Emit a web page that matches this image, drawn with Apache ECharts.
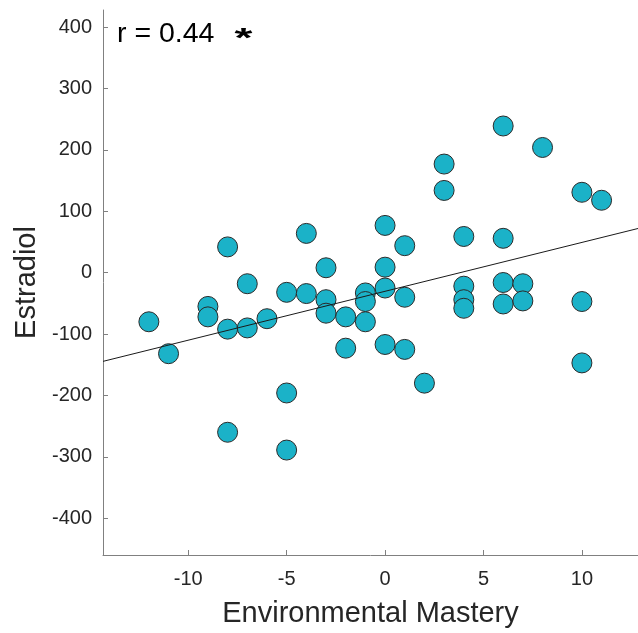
<!DOCTYPE html>
<html>
<head>
<meta charset="utf-8">
<script src="https://cdn.jsdelivr.net/npm/echarts@6/dist/echarts.min.js"></script>
<style>html,body{margin:0;padding:0;background:#fff}#c{width:638px;height:633px}</style>
</head>
<body>
<div id="c"></div>
<script>
// Environmental Mastery (x) values
const masteryX = [-12,-11,-9,-9,-8,-8,-8,-7,-7,-6,-5,-5,-5,-4,-4,-3,-3,-3,-2,-2,-1,-1,-1,0,0,0,0,1,1,1,2,3,3,4,4,4,4,6,6,6,6,7,7,8,10,10,10,11];
// Estradiol (y) values
const estradiolY = [-80,-132,-55,-72,42,-92,-260,-18,-90,-75,-32,-196,-289,64,-34,8,-44,-66,-72,-123,-33,-47,-80,77,9,-25,-117,44,-40,-125,-180,177,134,59,-22,-44,-58,239,56,-16,-51,-18,-46,204,131,-47,-147,118];
// fit line endpoints
const fitX = [-14.33, 12.85];
const fitY = [-144.5, 72];
const xTicks = [-10,-5,0,5,10];
const yTicks = [-400,-300,-200,-100,0,100,200,300,400];
const corrLabel = 'r = 0.44';
const sigLabel = '*';

const points = masteryX.map((x,i)=>[x, estradiolY[i]]);
const fitLine = fitX.map((x,i)=>[x, fitY[i]]);

const FONT = 'Liberation Sans, Arial, Helvetica, sans-serif';
const chart = echarts.init(document.getElementById('c'));
const axisCommon = {
  axisLine:{show:true, onZero:false, lineStyle:{color:'#808080', width:1}},
  splitLine:{show:false},
};
chart.setOption({
  animation:false,
  grid:{left:103, right:0, top:10, bottom:78, containLabel:false},
  xAxis:{
    type:'value', min:-14.33, max:12.85,
    ...axisCommon,
    axisTick:{show:true, inside:true, length:5, customValues:xTicks, lineStyle:{color:'#808080'}},
    axisLabel:{customValues:xTicks, color:'#262626', fontSize:20, fontFamily:FONT, margin:14},
    name:'Environmental Mastery', nameLocation:'middle', nameGap:44,
    nameTextStyle:{color:'#262626', fontSize:29, fontFamily:FONT}
  },
  yAxis:{
    type:'value', min:-460, max:428,
    ...axisCommon,
    axisTick:{show:true, inside:true, length:5, customValues:yTicks, lineStyle:{color:'#808080'}},
    axisLabel:{customValues:yTicks, color:'#262626', fontSize:20, fontFamily:FONT, margin:11},
    name:'Estradiol', nameLocation:'middle', nameGap:60, nameRotate:90,
    nameTextStyle:{color:'#262626', fontSize:29, fontFamily:FONT}
  },
  series:[
    {type:'scatter', data:points, symbol:'circle', symbolSize:20, z:2,
     itemStyle:{color:'#1bb2c8', borderColor:'#2a2a2a', borderWidth:1, opacity:1}},
    {type:'line', data:fitLine, symbol:'none', z:3, silent:true,
     lineStyle:{color:'#1a1a1a', width:1}}
  ],
  graphic:[
    {type:'text', x:117, y:19.5, style:{text:corrLabel, fill:'#000', font:'28.5px "Liberation Sans", Arial, sans-serif', verticalAlign:'top'}},
    {type:'text', x:243.5, y:39.5, scaleY:0.62, style:{text:sigLabel, fill:'#000', font:'bold 46px "Liberation Sans", Arial, sans-serif', align:'center', verticalAlign:'middle'}}
  ]
});
</script>
</body>
</html>
